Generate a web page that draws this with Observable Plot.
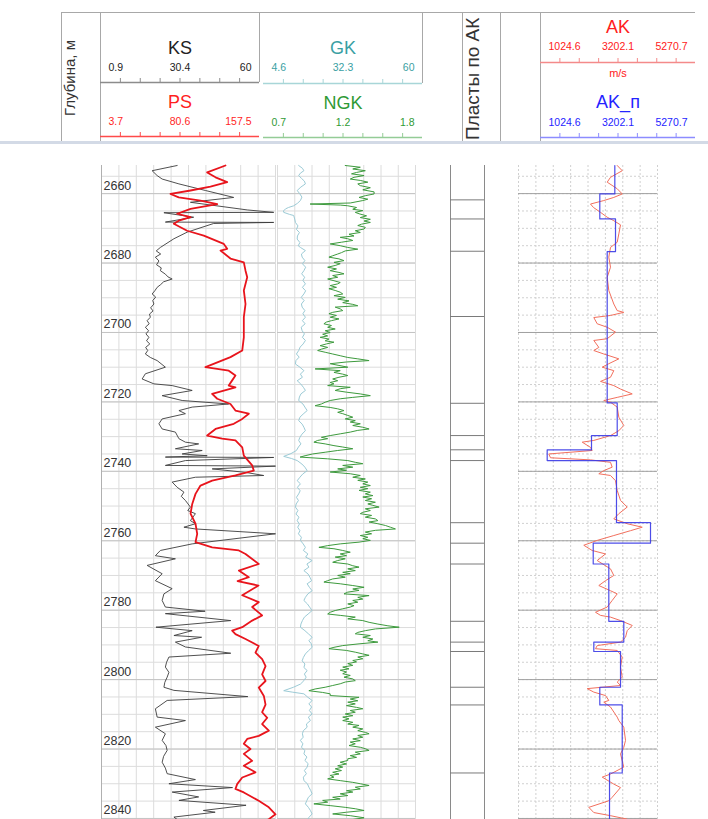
<!DOCTYPE html>
<html><head><meta charset="utf-8">
<script src="https://cdn.jsdelivr.net/npm/d3@7"></script>
<script src="https://cdn.jsdelivr.net/npm/@observablehq/plot@0.6"></script>
<style>
body{margin:0;background:#fff;font-family:"Liberation Sans",Arial,sans-serif;}
#log{position:relative;width:708px;height:819px;overflow:hidden;background:#fff;}
.vtext{position:absolute;transform-origin:left top;transform:rotate(-90deg);white-space:nowrap;line-height:1;}
.box{position:absolute;}
</style></head><body><div id="log"></div><script>
// ---- depth window ----
const depthTop = 2651.9, depthBottom = 2840.3;
const depthLabels = [2660, 2680, 2700, 2720, 2740, 2760, 2780, 2800, 2820, 2840];

// ---- scale headers ----
const ksTicks = ["0.9", "30.4", "60"];
const psTicks = ["3.7", "80.6", "157.5"];
const gkTicks = ["4.6", "32.3", "60"];
const ngkTicks = ["0.7", "1.2", "1.8"];
const akTicks = ["1024.6", "3202.1", "5270.7"];
const akpTicks = ["1024.6", "3202.1", "5270.7"];

// ---- curves: [depth, value] ----
const KS = [[2651.9,26.6],[2653.4,18.1],[2654.8,19.8],[2655.8,21.5],[2657.2,27.2],[2659.1,36.2],[2661.1,45.8],[2662.5,31.1],[2664.7,50.4],[2665.4,59.4],[2665.5,22.1],[2666.8,32.2],[2668.2,22.6],[2668.3,59.4],[2668.6,39.0],[2671.1,30.0],[2673.0,25.5],[2675.5,20.9],[2676.5,19.5],[2677.4,21.0],[2678.3,19.2],[2679.4,20.4],[2680.5,19.6],[2681.4,21.2],[2682.2,20.9],[2683.2,22.6],[2684.0,23.5],[2684.6,24.9],[2685.4,22.0],[2686.2,21.0],[2687.0,19.8],[2688.0,19.0],[2688.9,18.1],[2689.8,19.3],[2690.8,18.3],[2691.8,18.7],[2692.9,17.6],[2693.8,18.4],[2694.7,17.2],[2695.6,17.5],[2696.6,16.4],[2697.5,17.1],[2698.5,15.8],[2699.5,16.9],[2700.4,16.0],[2701.4,17.0],[2702.4,16.2],[2703.3,17.3],[2704.3,15.9],[2705.2,16.6],[2706.2,15.8],[2707.2,17.5],[2708.1,19.8],[2710.0,22.6],[2711.9,15.8],[2713.4,14.7],[2714.8,18.7],[2715.3,24.9],[2716.7,31.7],[2718.2,21.5],[2719.6,28.3],[2720.6,44.1],[2721.5,31.7],[2722.5,27.2],[2723.4,29.4],[2724.9,21.5],[2726.3,20.4],[2727.8,21.5],[2728.7,26.0],[2730.6,27.2],[2731.6,29.4],[2732.1,33.9],[2733.5,26.0],[2734.0,35.1],[2735.0,28.3],[2735.5,36.8],[2735.9,22.6],[2736.0,59.4],[2736.9,29.4],[2738.3,22.6],[2738.5,60],[2739.3,38.5],[2740.3,49.8],[2741.2,56.0],[2741.7,32.8],[2743.1,24.9],[2744.6,26.6],[2746.0,28.9],[2747.2,28.0],[2748.4,29.4],[2749.4,30.3],[2750.3,31.1],[2751.3,30.2],[2752.2,32.8],[2754.2,31.1],[2755.1,32.8],[2756.1,28.9],[2756.6,32.8],[2758.0,60],[2760.9,31.7],[2762.8,20.9],[2764.3,19.2],[2765.2,26.0],[2767.1,16.4],[2769.5,21.5],[2771.5,19.2],[2773.8,24.9],[2775.3,22.1],[2777.2,21.5],[2779.1,22.6],[2780.3,36.1],[2781.0,22.6],[2783.0,44.8],[2784.9,19.4],[2785.9,31.7],[2787.3,25.5],[2787.8,34.9],[2789.2,26.0],[2790.6,29.4],[2792.4,44.8],[2793.5,23.8],[2795.0,23.0],[2796.4,22.6],[2797.9,23.8],[2799.3,23.2],[2800.8,22.4],[2802.2,22.1],[2803.1,25.5],[2804.9,50.6],[2806.0,23.2],[2808.4,19.2],[2810.8,19.8],[2811.8,29.4],[2813.7,19.2],[2815.6,22.6],[2817.5,21.5],[2819.0,22.8],[2820.4,23.2],[2822.1,22.0],[2823.8,21.5],[2825.5,22.6],[2827.1,23.2],[2828.8,32.8],[2830.0,23.8],[2831.1,45.4],[2832.4,24.9],[2833.8,33.9],[2834.8,27.2],[2836.2,50.0],[2837.7,35.5],[2838.2,39.5],[2839.6,25.5],[2841.0,27.7]];

const PS = [[2651.9,113.3],[2653.9,97.1],[2655.3,104.5],[2656.7,114.8],[2658.0,100.0],[2659.1,82.4],[2660.1,64.7],[2661.1,72.0],[2662.0,91.2],[2663.0,106.0],[2664.4,82.4],[2665.8,70.6],[2666.8,82.4],[2667.8,72.0],[2668.7,67.6],[2670.7,79.4],[2672.1,94.1],[2674.5,111.8],[2675.9,114.8],[2676.4,108.9],[2678.7,117.7],[2679.8,129.5],[2682.2,131.0],[2684.1,132.5],[2687.9,129.5],[2691.8,131.0],[2695.6,129.5],[2701.4,129.5],[2705.2,128.1],[2707.1,117.7],[2710.0,95.6],[2711.0,116.2],[2712.4,122.1],[2713.8,119.2],[2715.3,116.2],[2715.8,122.1],[2717.7,101.5],[2719.1,106.0],[2720.6,117.7],[2722.5,122.1],[2723.4,133.9],[2724.9,128.1],[2726.3,120.6],[2727.8,104.5],[2729.7,97.1],[2730.6,110.4],[2731.1,122.1],[2733.1,128.1],[2735.5,129.5],[2738.3,136.9],[2739.8,138.3],[2741.2,122.1],[2742.7,101.5],[2744.1,91.2],[2746.5,86.8],[2749.4,83.9],[2752.2,82.4],[2755.1,86.8],[2758.0,88.3],[2760.4,86.8],[2761.9,101.5],[2762.8,125.1],[2763.8,131.0],[2766.7,142.7],[2768.6,125.1],[2770.5,133.9],[2771.6,124.0],[2772.9,142.5],[2775.7,128.1],[2777.7,142.7],[2779.1,136.9],[2781.5,145.7],[2783.0,136.9],[2784.9,128.1],[2785.9,119.2],[2786.9,122.1],[2788.3,131.0],[2790.3,142.7],[2792.2,139.8],[2794.1,145.7],[2796.1,148.7],[2798.5,145.7],[2800.4,148.7],[2802.3,142.7],[2804.7,147.2],[2807.2,148.7],[2809.4,145.7],[2811.0,150.2],[2812.8,145.7],[2814.7,151.6],[2816.2,142.7],[2817.1,132.5],[2818.5,129.5],[2820.0,135.4],[2821.4,129.5],[2823.4,136.9],[2824.8,129.5],[2826.7,139.8],[2828.2,128.1],[2830.1,123.6],[2831.5,122.1],[2832.5,129.5],[2834.9,142.7],[2836.8,151.6],[2838.8,157.5],[2840.2,151.6],[2841.3,146.0]];

const GK = [[2651.9,13.1],[2652.7,14.6],[2653.4,15.2],[2654.1,13.8],[2654.8,13.1],[2655.6,14.2],[2656.4,15.4],[2657.2,15.8],[2658.1,14.0],[2659.1,12.5],[2660.0,13.5],[2661.0,14.4],[2662.0,13.8],[2662.8,12.6],[2663.5,11.1],[2664.0,9.0],[2664.4,7.8],[2665.0,7.0],[2665.4,7.1],[2666.0,9.5],[2666.3,11.1],[2667.3,11.5],[2668.3,11.8],[2669.3,12.8],[2670.3,12.2],[2671.2,13.4],[2672.2,12.6],[2673.1,12.5],[2674.1,13.6],[2675.0,12.9],[2675.5,13.8],[2676.4,15.8],[2677.4,14.2],[2678.3,14.5],[2679.3,15.6],[2680.2,14.6],[2681.2,15.9],[2682.2,15.2],[2683.1,14.3],[2684.1,15.5],[2685.0,14.8],[2686.0,15.8],[2687.0,14.6],[2688.0,15.9],[2688.9,15.2],[2689.9,14.1],[2690.8,15.3],[2691.8,14.2],[2692.7,14.5],[2693.7,15.6],[2694.6,14.8],[2695.6,15.8],[2696.6,14.6],[2697.5,15.7],[2698.5,14.1],[2699.5,14.5],[2700.4,15.4],[2701.4,14.6],[2702.3,15.8],[2703.3,14.9],[2704.2,13.7],[2705.2,13.1],[2706.2,12.2],[2707.1,13.3],[2708.1,12.0],[2709.1,11.8],[2710.0,13.6],[2711.0,15.2],[2712.0,13.8],[2712.9,14.6],[2713.9,12.5],[2714.8,13.9],[2715.8,15.0],[2716.7,15.8],[2717.7,14.0],[2718.6,13.4],[2719.6,13.1],[2720.6,14.8],[2721.5,15.6],[2722.5,16.5],[2723.5,14.9],[2724.4,13.6],[2725.4,13.1],[2726.4,14.5],[2727.3,15.2],[2728.3,15.8],[2729.3,14.4],[2730.2,13.6],[2731.1,13.1],[2732.1,14.0],[2733.0,13.0],[2734.0,12.2],[2734.9,10.0],[2735.7,7.1],[2736.3,10.2],[2736.9,12.5],[2737.9,14.4],[2738.8,15.6],[2739.8,16.5],[2740.8,14.7],[2741.7,13.6],[2742.7,12.5],[2743.6,13.8],[2744.6,12.6],[2745.6,13.7],[2746.5,13.1],[2747.5,12.2],[2748.4,13.0],[2749.4,12.1],[2750.3,11.8],[2751.3,12.8],[2752.3,12.0],[2753.2,13.2],[2754.2,12.5],[2755.2,13.4],[2756.1,12.7],[2757.1,13.6],[2758.0,13.0],[2759.0,14.2],[2759.9,13.8],[2760.9,14.9],[2761.9,15.8],[2762.8,15.0],[2763.8,16.8],[2764.7,15.9],[2765.7,18.5],[2766.7,16.4],[2767.6,17.2],[2768.6,15.2],[2769.6,16.9],[2770.5,17.6],[2771.5,18.3],[2772.4,16.5],[2773.4,17.4],[2774.4,18.5],[2775.3,16.8],[2776.3,15.8],[2777.2,15.2],[2778.2,16.6],[2779.1,17.5],[2780.1,18.5],[2781.1,16.9],[2782.0,15.4],[2783.0,14.6],[2784.0,14.0],[2784.9,13.8],[2785.9,15.6],[2786.8,17.0],[2787.8,18.5],[2788.8,17.2],[2789.7,18.2],[2790.7,18.5],[2791.7,17.0],[2792.6,15.8],[2793.6,15.0],[2794.6,14.5],[2795.5,15.6],[2796.5,15.2],[2797.4,16.5],[2798.4,15.4],[2799.3,16.1],[2800.3,15.2],[2801.3,13.8],[2802.2,11.0],[2803.2,7.1],[2803.6,10.5],[2804.1,15.2],[2805.1,16.8],[2806.0,18.5],[2807.0,17.2],[2807.9,18.3],[2808.9,17.4],[2809.9,18.5],[2810.8,17.0],[2811.8,17.8],[2812.8,16.2],[2813.7,16.5],[2814.7,15.0],[2815.6,14.6],[2816.6,14.9],[2817.5,13.8],[2818.5,14.8],[2819.5,14.2],[2820.4,15.6],[2821.4,15.2],[2822.3,16.4],[2823.3,15.6],[2824.2,16.9],[2825.2,16.5],[2826.2,15.4],[2827.1,16.2],[2828.1,15.0],[2829.1,15.2],[2830.0,16.6],[2831.0,17.2],[2831.9,17.9],[2832.9,18.5],[2833.9,17.0],[2834.8,16.4],[2835.8,15.8],[2836.8,17.0],[2837.7,17.8],[2838.7,18.5],[2839.7,17.2],[2841.3,15.8]];

const NGK = [[2651.9,1.24],[2652.4,1.36],[2652.9,1.30],[2653.4,1.40],[2653.9,1.33],[2654.3,1.29],[2654.8,1.39],[2655.3,1.31],[2655.8,1.28],[2656.2,1.36],[2656.7,1.42],[2657.2,1.34],[2657.7,1.36],[2658.3,1.44],[2658.9,1.38],[2659.5,1.47],[2660.1,1.47],[2660.6,1.40],[2661.1,1.35],[2661.6,1.42],[2662.0,1.38],[2662.7,1.28],[2663.0,0.96],[2663.3,1.20],[2663.5,1.26],[2664.0,1.33],[2664.5,1.30],[2664.9,1.38],[2665.4,1.32],[2665.8,1.35],[2666.4,1.41],[2666.9,1.36],[2667.4,1.44],[2667.9,1.39],[2668.3,1.44],[2668.8,1.37],[2669.2,1.34],[2669.7,1.40],[2670.2,1.39],[2670.7,1.32],[2671.2,1.36],[2671.7,1.27],[2672.2,1.31],[2672.6,1.20],[2673.0,1.26],[2673.5,1.30],[2674.0,1.21],[2674.5,1.12],[2675.0,1.20],[2675.5,1.26],[2676.0,1.34],[2676.5,1.24],[2677.0,1.21],[2677.4,1.18],[2677.9,1.14],[2678.3,1.11],[2678.8,1.19],[2679.3,1.23],[2679.8,1.15],[2680.2,1.20],[2680.7,1.16],[2681.2,1.10],[2681.7,1.17],[2682.2,1.12],[2682.7,1.19],[2683.1,1.23],[2683.6,1.14],[2684.1,1.18],[2684.6,1.10],[2685.1,1.15],[2685.6,1.20],[2686.0,1.18],[2686.5,1.12],[2687.0,1.17],[2687.4,1.11],[2687.9,1.16],[2688.4,1.20],[2688.9,1.22],[2689.4,1.15],[2689.9,1.24],[2690.4,1.18],[2690.9,1.27],[2691.4,1.22],[2691.9,1.30],[2692.3,1.34],[2692.7,1.16],[2693.2,1.20],[2693.7,1.22],[2694.2,1.14],[2694.6,1.11],[2695.1,1.17],[2695.6,1.12],[2696.1,1.19],[2696.6,1.13],[2697.0,1.09],[2697.5,1.07],[2698.0,1.13],[2698.5,1.10],[2699.0,1.16],[2699.5,1.08],[2700.0,1.12],[2700.5,1.06],[2701.0,1.10],[2701.4,1.04],[2701.9,1.11],[2702.4,1.08],[2702.8,1.15],[2703.3,1.09],[2703.8,1.04],[2704.3,1.10],[2704.8,1.05],[2705.2,1.02],[2705.7,1.08],[2706.2,1.14],[2706.7,1.20],[2707.2,1.26],[2707.6,1.34],[2708.1,1.43],[2708.5,1.25],[2709.0,1.12],[2709.5,1.19],[2710.0,1.26],[2710.5,1.00],[2711.0,1.20],[2711.5,1.15],[2712.0,1.22],[2712.4,1.26],[2712.9,1.19],[2713.4,1.14],[2713.9,1.18],[2714.4,1.12],[2714.8,1.15],[2715.3,1.10],[2715.8,1.28],[2716.2,1.20],[2716.7,1.16],[2717.2,1.25],[2717.7,1.36],[2718.2,1.44],[2718.7,1.30],[2719.1,1.20],[2719.6,1.12],[2720.1,1.08],[2720.6,1.05],[2721.1,1.00],[2721.6,1.12],[2722.0,1.18],[2722.5,1.23],[2723.0,1.18],[2723.4,1.22],[2723.9,1.26],[2724.4,1.30],[2724.9,1.24],[2725.4,1.32],[2725.8,1.28],[2726.3,1.36],[2726.8,1.30],[2727.3,1.38],[2727.8,1.43],[2728.2,1.34],[2728.7,1.28],[2729.2,1.20],[2729.7,1.12],[2730.2,1.05],[2730.6,1.10],[2731.1,1.02],[2731.6,0.99],[2732.1,1.08],[2732.6,1.15],[2733.0,1.22],[2733.5,1.30],[2734.0,1.18],[2734.5,1.08],[2735.0,0.98],[2735.5,0.92],[2735.9,0.88],[2736.4,1.10],[2736.9,1.26],[2737.4,1.32],[2737.8,1.38],[2738.3,1.22],[2738.8,1.30],[2739.3,1.18],[2739.7,1.25],[2740.2,1.12],[2740.7,1.28],[2741.2,1.36],[2741.7,1.30],[2742.2,1.40],[2742.6,1.34],[2743.1,1.42],[2743.6,1.38],[2744.1,1.44],[2744.6,1.36],[2745.0,1.42],[2745.5,1.35],[2746.0,1.44],[2746.5,1.40],[2747.0,1.46],[2747.4,1.38],[2747.9,1.45],[2748.4,1.40],[2748.9,1.48],[2749.4,1.42],[2749.8,1.46],[2750.3,1.51],[2750.8,1.40],[2751.3,1.44],[2751.8,1.38],[2752.2,1.36],[2752.7,1.45],[2753.2,1.40],[2753.7,1.48],[2754.2,1.50],[2754.6,1.43],[2755.1,1.50],[2755.6,1.56],[2756.1,1.60],[2756.6,1.64],[2757.0,1.48],[2757.5,1.40],[2758.0,1.45],[2758.5,1.36],[2759.0,1.42],[2759.4,1.38],[2759.9,1.44],[2760.4,1.35],[2760.9,1.20],[2761.4,1.10],[2761.9,1.03],[2762.3,1.15],[2762.8,1.22],[2763.3,1.28],[2763.8,1.20],[2764.3,1.25],[2764.7,1.16],[2765.2,1.24],[2765.7,1.18],[2766.2,1.14],[2766.7,1.26],[2767.2,1.30],[2767.6,1.35],[2768.1,1.26],[2768.6,1.32],[2769.1,1.22],[2769.5,1.28],[2770.0,1.18],[2770.5,1.24],[2771.0,1.14],[2771.5,1.10],[2771.9,1.07],[2772.4,1.20],[2772.9,1.30],[2773.4,1.39],[2773.9,1.30],[2774.3,1.35],[2774.8,1.26],[2775.3,1.23],[2775.8,1.43],[2776.3,1.34],[2776.8,1.38],[2777.2,1.30],[2777.7,1.34],[2778.2,1.26],[2778.7,1.31],[2779.1,1.28],[2779.6,1.22],[2780.1,1.16],[2780.6,1.12],[2781.1,1.10],[2781.5,1.20],[2782.0,1.32],[2782.5,1.26],[2783.0,1.38],[2783.5,1.43],[2784.0,1.50],[2784.5,1.58],[2784.9,1.67],[2785.4,1.48],[2785.9,1.40],[2786.4,1.34],[2786.8,1.32],[2787.3,1.44],[2787.8,1.38],[2788.3,1.46],[2788.8,1.42],[2789.2,1.50],[2789.7,1.35],[2790.2,1.22],[2790.7,1.15],[2791.1,1.11],[2791.6,1.25],[2792.1,1.32],[2792.6,1.38],[2793.0,1.43],[2793.5,1.34],[2794.0,1.38],[2794.5,1.30],[2794.9,1.33],[2795.4,1.26],[2795.9,1.30],[2796.4,1.22],[2796.9,1.27],[2797.3,1.20],[2797.8,1.25],[2798.3,1.22],[2798.8,1.28],[2799.3,1.23],[2799.8,1.30],[2800.3,1.32],[2800.7,1.24],[2801.2,1.20],[2801.7,1.14],[2802.2,1.08],[2802.7,1.00],[2803.2,0.95],[2803.7,1.06],[2804.1,1.12],[2804.6,1.12],[2805.1,1.35],[2805.6,1.28],[2806.1,1.34],[2806.5,1.26],[2807.0,1.32],[2807.5,1.25],[2808.0,1.33],[2808.4,1.38],[2808.9,1.28],[2809.4,1.32],[2809.9,1.24],[2810.4,1.30],[2810.8,1.22],[2811.3,1.27],[2811.8,1.22],[2812.3,1.30],[2812.8,1.26],[2813.2,1.35],[2813.7,1.30],[2814.2,1.38],[2814.7,1.34],[2815.2,1.40],[2815.6,1.43],[2816.1,1.34],[2816.6,1.38],[2817.1,1.30],[2817.6,1.36],[2818.0,1.28],[2818.5,1.32],[2819.0,1.27],[2819.5,1.36],[2819.9,1.40],[2820.4,1.43],[2820.9,1.32],[2821.4,1.36],[2821.9,1.28],[2822.4,1.33],[2822.8,1.26],[2823.3,1.26],[2823.8,1.20],[2824.3,1.25],[2824.8,1.18],[2825.2,1.22],[2825.7,1.16],[2826.2,1.21],[2826.7,1.14],[2827.2,1.19],[2827.6,1.12],[2828.1,1.15],[2828.6,1.10],[2829.1,1.20],[2829.6,1.30],[2830.0,1.36],[2830.5,1.43],[2831.0,1.32],[2831.5,1.36],[2832.0,1.25],[2832.4,1.30],[2832.9,1.20],[2833.4,1.26],[2833.9,1.14],[2834.4,1.20],[2834.8,1.06],[2835.3,1.10],[2835.8,0.99],[2836.3,1.12],[2836.8,1.24],[2837.2,1.32],[2837.7,1.39],[2838.2,1.25],[2838.7,1.14],[2839.2,1.28],[2839.8,1.39],[2840.3,1.30],[2841.2,1.20]];

const AK = [[2651.9,4040],[2653.4,4193],[2655.3,3835],[2656.7,3734],[2658.6,4040],[2660.1,4193],[2661.1,3936],[2662.0,3630],[2663.0,3224],[2664.0,3316],[2665.4,3530],[2666.8,3734],[2667.8,3936],[2669.0,4141],[2671.6,4089],[2674.0,4040],[2675.5,3835],[2678.3,3783],[2681.2,3835],[2684.1,3734],[2687.9,3783],[2691.8,3936],[2693.7,4040],[2694.2,4241],[2695.1,3835],[2695.7,3325],[2697.5,3429],[2698.5,3734],[2699.9,3988],[2701.8,3734],[2702.3,3325],[2704.3,3478],[2705.2,3325],[2706.2,3630],[2707.6,4089],[2709.0,3783],[2710.0,3582],[2711.0,3936],[2712.9,3835],[2714.1,3530],[2715.3,3936],[2716.3,4141],[2717.7,4498],[2718.7,4040],[2719.6,3630],[2720.1,3835],[2721.5,4040],[2724.4,4089],[2726.8,4241],[2728.3,4089],[2729.7,3835],[2731.1,3325],[2731.6,2971],[2733.1,3224],[2734.0,3276],[2735.0,1950],[2736.1,2002],[2736.7,3224],[2737.4,3835],[2738.8,3887],[2739.8,3630],[2740.7,3478],[2741.2,3835],[2742.7,3988],[2745.5,4040],[2748.4,4141],[2750.3,4345],[2752.2,4089],[2753.7,3936],[2755.1,4345],[2756.1,4804],[2757.1,4446],[2758.5,3936],[2759.9,3429],[2761.3,3019],[2762.8,3276],[2763.8,3682],[2765.7,3429],[2768.1,3835],[2770.0,3936],[2771.5,3682],[2772.9,3478],[2774.4,3835],[2775.3,4040],[2777.2,3887],[2779.1,3734],[2780.6,3377],[2781.5,3530],[2782.0,3835],[2783.0,4141],[2784.4,4498],[2785.9,4345],[2787.8,4294],[2789.2,4141],[2790.2,3429],[2791.1,3377],[2791.6,4040],[2793.5,4193],[2796.4,4141],[2799.3,4193],[2800.7,4040],[2801.7,4141],[2802.6,3123],[2803.6,3325],[2804.6,3682],[2806.0,3783],[2806.5,3630],[2807.9,3835],[2810.8,4040],[2811.8,4089],[2813.7,4241],[2817.5,4294],[2819.5,4241],[2821.4,4141],[2825.2,4241],[2827.2,3835],[2828.1,3582],[2830.1,3936],[2831.1,4141],[2833.9,3887],[2834.9,3783],[2836.8,3172],[2838.3,3325],[2839.2,3835],[2840.2,4345],[2841.3,4446]];

// blocky AK_п: top depth of each interval and its velocity
const akpTops = [2651.9, 2660.1, 2667.3, 2676.7, 2720.3, 2729.7, 2733.8, 2736.9, 2754.8, 2760.7, 2766.7, 2783.2, 2789.2, 2791.9, 2802.2, 2807.3, 2826.9, 2841.5];
const akpValues = [3967, 3508, 3988, 3734, 4040, 3255, 1901, 4018, 5057, 3307, 3783, 4241, 3325, 4141, 3508, 4193, 3805];

// layer boundaries (Пласты по АК)
const layerBounds = [2661.8, 2667.3, 2676.6, 2695.4, 2720.4, 2729.7, 2733.8, 2736.9, 2754.8, 2760.7, 2766.7, 2783.2, 2789.2, 2791.9, 2802.2, 2807.3, 2826.9];

// ---------------------------------------------------------------
const root = document.getElementById("log");
const FONT = "'Liberation Sans', Arial, sans-serif";
const bodyTop = 165, bodyHeight = 654;

function place(node, left, top) {
  node.style.position = "absolute";
  node.style.left = left + "px";
  node.style.top = top + "px";
  root.appendChild(node);
  return node;
}
function box(left, top, width, height, css) {
  const d = document.createElement("div");
  d.className = "box";
  Object.assign(d.style, {left: left + "px", top: top + "px", width: width + "px", height: height + "px"}, css);
  root.appendChild(d);
  return d;
}

// a plot covering one track body, depth running downwards
function depthPlot(width, xDomain, marks) {
  return Plot.plot({
    width, height: bodyHeight, margin: 0,
    x: {domain: xDomain, range: [0, width], axis: null},
    y: {domain: [depthTop, depthBottom], range: [0, bodyHeight], axis: null},
    style: {background: "transparent", overflow: "visible", fontFamily: FONT},
    marks
  });
}

const minorDepths = d3.range(2655, 2841, 5);
const majorDepths = d3.range(2660, 2841, 20);

function gridMarks(cells, opts = {}) {
  const dash = opts.dashed ? "2,2" : null;
  return [
    Plot.ruleX(d3.range(cells + 1), {x: d => d, stroke: opts.vColor || "#dcdcdc", strokeWidth: 1, strokeDasharray: dash}),
    Plot.ruleY(minorDepths, {y: d => d, stroke: opts.minorColor || "#dcdcdc", strokeWidth: 1, strokeDasharray: dash}),
    Plot.ruleY(majorDepths, {y: d => d, stroke: opts.majorColor || "#c4c4c4", strokeWidth: 1})
  ];
}

// ---------------- header ----------------
const frame = "#a8a8a8";
box(61, 12, 634, 1, {background: frame});
box(61, 12, 1, 129, {background: frame});
box(100, 12, 1, 129, {background: frame});
box(259, 12, 1, 70, {background: frame});
box(422, 12, 1, 71, {background: frame});
box(462, 12, 1, 129, {background: frame});
box(500, 12, 1, 129, {background: frame});
box(540, 12, 1, 129, {background: frame});
// separator under the header
box(0, 141, 708, 3, {background: "#d3dae6"});

function vLabel(text, left, bottom, size, clipTop) {
  const wrap = box(left, clipTop, size * 1.3, bottom - clipTop, {overflow: "hidden"});
  const t = document.createElement("div");
  t.className = "vtext";
  t.textContent = text;
  Object.assign(t.style, {left: "0px", top: (bottom - clipTop) + "px", fontSize: size + "px", color: "#333", fontFamily: FONT});
  wrap.appendChild(t);
}
vLabel("Глубина, м", 62, 116, 15, 13);
vLabel("Пласты по АК", 463, 140, 19, 13);

// one curve scale bar: title, three value labels and a ticked base line
function scaleBar({x0, x1, base, title, titleY, ticks, tickY, color, lineColor, unit, unitY, top}) {
  const w = x1 - x0, h = base + 2 - top;
  const tickPos = d3.range(1, 8).map(i => i * w / 8);
  const marks = [
    Plot.ruleY([base - top], {y: d => d, stroke: lineColor, strokeWidth: 1.3}),
    Plot.ruleX(tickPos, {x: d => d, y1: base - top - 4, y2: base - top, stroke: lineColor, strokeWidth: 1}),
    Plot.text([title], {x: w / 2, y: titleY - top, text: d => d, fill: color, fontSize: 18}),
    Plot.text([ticks[0]], {x: 8, y: tickY - top, text: d => d, fill: color, fontSize: 10.5, textAnchor: "start"}),
    Plot.text([ticks[1]], {x: w / 2, y: tickY - top, text: d => d, fill: color, fontSize: 10.5}),
    Plot.text([ticks[2]], {x: w - 8, y: tickY - top, text: d => d, fill: color, fontSize: 10.5, textAnchor: "end"})
  ];
  if (unit) marks.push(Plot.text([unit], {x: w / 2, y: unitY - top, text: d => d, fill: color, fontSize: 11}));
  const svg = Plot.plot({
    width: w, height: h, margin: 0,
    x: {type: "identity", axis: null}, y: {type: "identity", axis: null},
    style: {background: "transparent", overflow: "visible", fontFamily: FONT},
    marks
  });
  place(svg, x0, top);
}

scaleBar({x0: 100, x1: 259, top: 14, base: 82, title: "KS", titleY: 48, ticks: ksTicks, tickY: 67, color: "#222", lineColor: "#8c8c8c"});
scaleBar({x0: 100, x1: 259, top: 84, base: 136, title: "PS", titleY: 102, ticks: psTicks, tickY: 121.5, color: "#ff1f1f", lineColor: "#ff4a4a"});
scaleBar({x0: 263, x1: 422, top: 14, base: 83, title: "GK", titleY: 48, ticks: gkTicks, tickY: 67.5, color: "#3a9fa3", lineColor: "#a8d6d8"});
scaleBar({x0: 263, x1: 422, top: 85, base: 137, title: "NGK", titleY: 102.5, ticks: ngkTicks, tickY: 122.5, color: "#2f9a35", lineColor: "#94cc96"});
scaleBar({x0: 540, x1: 695, top: 14, base: 62, title: "AK", titleY: 26.5, ticks: akTicks, tickY: 46, color: "#ff2020", lineColor: "#f48a8a", unit: "m/s", unitY: 73});
scaleBar({x0: 540, x1: 695, top: 84, base: 137, title: "AK_п", titleY: 101.5, ticks: akpTicks, tickY: 122.5, color: "#2424ff", lineColor: "#8c8cff"});

// ---------------- body ----------------
// track 1: depth labels, KS and PS
place(depthPlot(174, [0, 10], [
  ...gridMarks(10),
  Plot.ruleX([0], {stroke: "#b0b0b0"}),
  Plot.text(depthLabels, {x: 0, y: d => d, text: d => String(d), dx: 2, dy: -8, textAnchor: "start", fontSize: 12.5, fill: "#333"})
]), 101, bodyTop);
place(depthPlot(174, [0.9, 60], [
  Plot.line(KS, {x: d => d[1], y: d => d[0], stroke: "#3c3c3c", strokeWidth: 0.9})
]), 101, bodyTop);
place(depthPlot(174, [3.7, 157.5], [
  Plot.line(PS, {x: d => d[1], y: d => d[0], stroke: "#e8141c", strokeWidth: 1.8})
]), 101, bodyTop);

// track 2: GK and NGK
place(depthPlot(138, [0, 8], gridMarks(8)), 277, bodyTop);
place(depthPlot(138, [4.6, 60], [
  Plot.line(GK, {x: d => d[1], y: d => d[0], stroke: "#9ccbd6", strokeWidth: 1})
]), 277, bodyTop);
place(depthPlot(138, [0.7, 1.8], [
  Plot.line(NGK, {x: d => d[1], y: d => d[0], stroke: "#3d9a3d", strokeWidth: 1})
]), 277, bodyTop);

// track 3: layer boundaries
place(depthPlot(34, [0, 1], [
  Plot.ruleX([0, 1], {x: d => d, stroke: "#8a8a8a"}),
  Plot.ruleY(layerBounds, {y: d => d, stroke: "#7a7a7a"})
]), 450, bodyTop);

// track 4: AK and blocky AK_п
const akpSteps = akpValues.flatMap((v, i) => [[akpTops[i], v], [akpTops[i + 1], v]]);
place(depthPlot(139, [0, 8], gridMarks(8, {dashed: true, vColor: "#d0d0d0", minorColor: "#d0d0d0", majorColor: "#a0a0a0"})), 518, bodyTop);
place(depthPlot(139, [1024.6, 5270.7], [
  Plot.line(AK, {x: d => d[1], y: d => d[0], stroke: "#f2705e", strokeWidth: 1}),
  Plot.line(akpSteps, {x: d => d[1], y: d => d[0], stroke: "#3a3ae6", strokeWidth: 1.2, strokeOpacity: 0.9})
]), 518, bodyTop);
</script></body></html>
